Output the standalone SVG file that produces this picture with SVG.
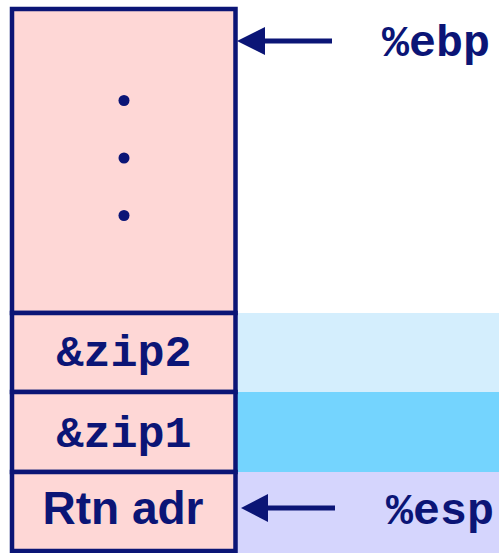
<svg xmlns="http://www.w3.org/2000/svg" width="499" height="553" viewBox="0 0 499 553">
<style>
.cell{fill:#fed7d6;stroke:#0b1576;stroke-width:4.5}
.mono{font-family:"Liberation Mono","Courier New",monospace;font-weight:bold;font-size:45px;fill:#0b1576}
.sans{font-family:"Liberation Sans",Arial,sans-serif;font-weight:bold;font-size:46px;fill:#0b1576}
.dot{fill:#0b1576}
.conn{stroke:#0b1576;stroke-width:5;fill:none}
.head{fill:#0b1576}
</style>
<g id="bands">
<rect x="237" y="313" width="262" height="79" fill="#d4eefd"/>
<rect x="237" y="392" width="262" height="80" fill="#74d4fe"/>
<rect x="237" y="472" width="262" height="81" fill="#d5d5fd"/>
</g>
<g id="frame">
<rect class="cell" x="12" y="9" width="223.5" height="304"/>
<circle class="dot" cx="124" cy="100.5" r="5.5"/>
<circle class="dot" cx="124" cy="158" r="5.5"/>
<circle class="dot" cx="124" cy="215.5" r="5.5"/>
</g>
<g id="zip2">
<rect class="cell" x="12" y="313" width="223.5" height="79"/>
<text class="mono" x="124" y="366" text-anchor="middle">&amp;zip2</text>
</g>
<g id="zip1">
<rect class="cell" x="12" y="392" width="223.5" height="80"/>
<text class="mono" x="124" y="447" text-anchor="middle">&amp;zip1</text>
</g>
<g id="rtn">
<rect class="cell" x="12" y="472" width="223.5" height="79"/>
<text class="sans" x="123" y="524" text-anchor="middle">Rtn adr</text>
</g>
<g id="ebp">
<text class="mono" x="382" y="56">%ebp</text>
</g>
<g id="esp">
<text class="mono" x="386" y="524">%esp</text>
</g>
<g id="connectors">
<line class="conn" x1="332" y1="41" x2="262" y2="41"/>
<polygon class="head" points="237,41 265,27 265,55"/>
<line class="conn" x1="335" y1="508" x2="265" y2="508"/>
<polygon class="head" points="241,508 268,494 268,522"/>
</g>
</svg>
